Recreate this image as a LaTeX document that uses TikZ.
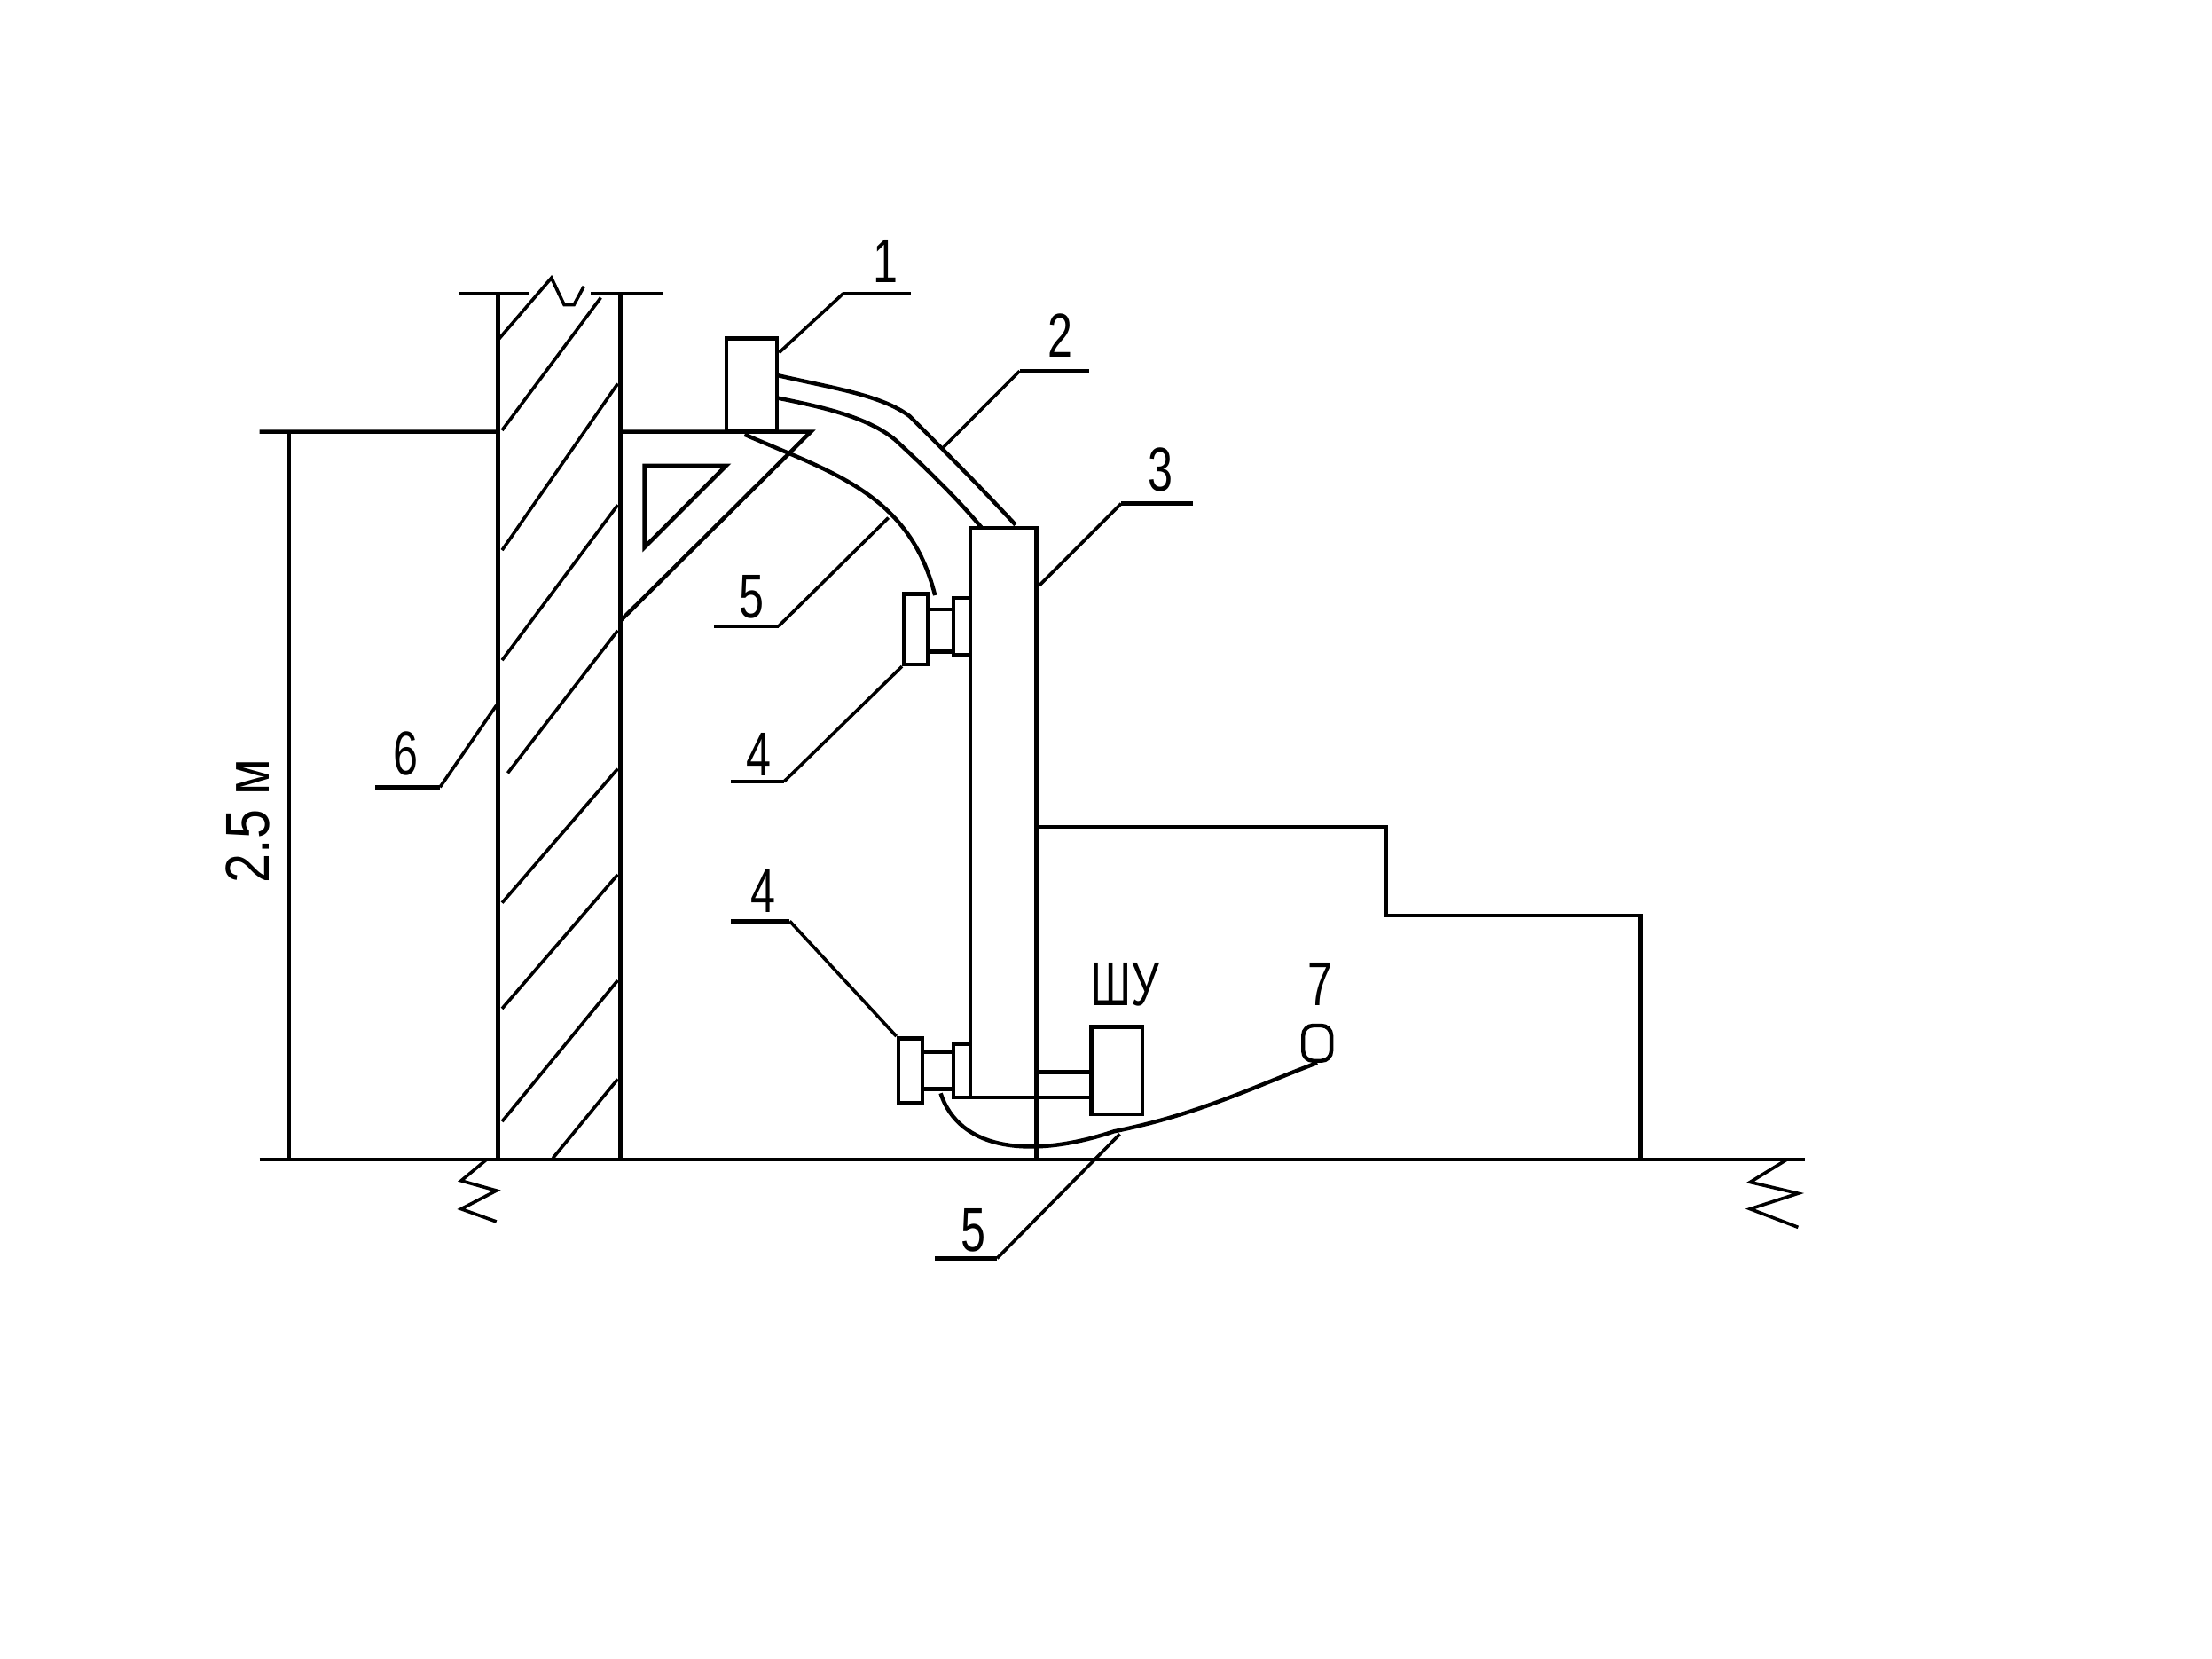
\documentclass[tikz,border=0pt]{standalone}
\usepackage{fontspec}
\setmainfont{Liberation Sans}
\newcommand{\nar}[1]{\scalebox{0.72}[1]{#1}}
\tikzset{
  main/.style={line width=1.6pt,black},
  thin line/.style={line width=1.3pt,black},
  lbl/.style={inner sep=0pt,font=\fontsize{25}{25}\selectfont},
  part/.style={draw,line width=1.6pt,inner sep=0pt,fill=white}
}
\begin{document}
\begin{tikzpicture}[x=0.02cm,y=-0.02cm]
\useasboundingbox (0,0) rectangle (1568.5,1175.5);
% wall
\draw[main] (353,208)--(353,822) (440,208)--(440,822);
\draw[main] (325,208)--(375,208) (419,208)--(470,208);
\draw[thin line] (354,240)--(391,197)--(400,216)--(407,216)--(414,203);
% hatching
\foreach \a/\b in {{356,305}/{426,211},{356,390}/{438,272},{356,468}/{438,358},{360,548}/{438,447},{356,640}/{438,545},{356,715}/{438,620},{356,795}/{438,695},{392,821}/{438,765}}
  \draw[thin line] (\a)--(\b);
% levels
\draw[main] (184,306)--(353,306) (440,306)--(575,306)--(440,440);
\draw[main] (184,822)--(1280,822);
\draw[main] (205,306)--(205,822);
\draw[main] (457,330)--(515,330)--(457,388)--cycle;
% break marks
\draw[thin line] (345,822)--(327,837)--(352,844)--(327,857)--(352,866);
\draw[thin line] (1267,822)--(1241,838)--(1275,846)--(1241,857)--(1275,870);
% column and step
\node[part,minimum width=0.94cm,minimum height=8.08cm] (col) at (711.5,576) {};
\draw[main] (735,778)--(735,822);
\draw[main] (735,586)--(983,586)--(983,649)--(1163,649)--(1163,822);
% box 1
\node[part,minimum width=0.72cm,minimum height=1.32cm] (b1) at (533,273) {};
% cables
\draw[main] (551,266) .. controls (590,275) and (625,280) .. (645,295) .. controls (670,320) and (695,345) .. (720,372);
\draw[main] (551,282) .. controls (580,288) and (615,295) .. (635,312) .. controls (660,335) and (680,355) .. (696,374);
% cable 5 upper
\draw[main] (528,308) .. controls (590,335) and (645,350) .. (663,422);
% upper detector
\node[part,minimum width=0.34cm,minimum height=1cm] (d1) at (649.5,446) {};
\node[part,minimum width=0.36cm,minimum height=0.6cm] (n1) at (667,447) {};
\node[part,minimum width=0.24cm,minimum height=0.8cm] (p1) at (682,444) {};
% lower detector
\node[part,minimum width=0.34cm,minimum height=0.92cm] (d2) at (645.5,759) {};
\node[part,minimum width=0.44cm,minimum height=0.52cm] (n2) at (665,759) {};
\node[part,minimum width=0.24cm,minimum height=0.76cm] (p2) at (682,759) {};
% control box
\draw[main] (676,778)--(774,778) (735,760)--(774,760);
\node[part,minimum width=0.72cm,minimum height=1.24cm] (shu) at (792,759) {};
% sensor 7 and cable
\node[draw,line width=1.6pt,rounded corners=4pt,minimum width=0.4cm,minimum height=0.5cm,inner sep=0pt] (s7) at (934,739.5) {};
\draw[main] (667,775) .. controls (680,815) and (730,822) .. (790,802) .. controls (850,790) and (890,770) .. (s7.south);
% leaders
\draw[thin line] (b1.north east |- 0,250)--(598,208);
\draw[main] (598,208)--(646,208);
\draw[thin line] (669,317)--(723,263); \draw[main] (723,263)--(772,263);
\draw[thin line] (737,415)--(795,357); \draw[main] (795,357)--(846,357);
\draw[thin line] (630,367)--(552,444); \draw[main] (552,444)--(506,444);
\draw[thin line] (d1.south west)--(556,554); \draw[main] (556,554)--(518,554);
\draw[thin line] (d2.north west)--(560,653); \draw[main] (560,653)--(518,653);
\draw[thin line] (794,804)--(707,892); \draw[main] (707,892)--(663,892);
\draw[thin line] (352,500)--(312,558); \draw[main] (312,558)--(266,558);
% labels
\node[lbl] (t1) at (628,185) {\nar{1}};
\node[lbl] (t2) at (752,238) {\nar{2}};
\node[lbl] (t3) at (823,333) {\nar{3}};
\node[lbl] (t5a) at (533,423) {\nar{5}};
\node[lbl] (t4a) at (538,535) {\nar{4}};
\node[lbl] (t4b) at (541,632) {\nar{4}};
\node[lbl] (t6) at (288,534) {\nar{6}};
\node[lbl] (t7) at (936,698) {\nar{7}};
\node[lbl] (t5b) at (690,872) {\nar{5}};
\node[lbl] (tshu) at (798,698) {\nar{ШУ}};
\node[lbl,rotate=90] (tdim) at (176,582) {\scalebox{0.85}[1]{2.5 м}};
\end{tikzpicture}
\end{document}
